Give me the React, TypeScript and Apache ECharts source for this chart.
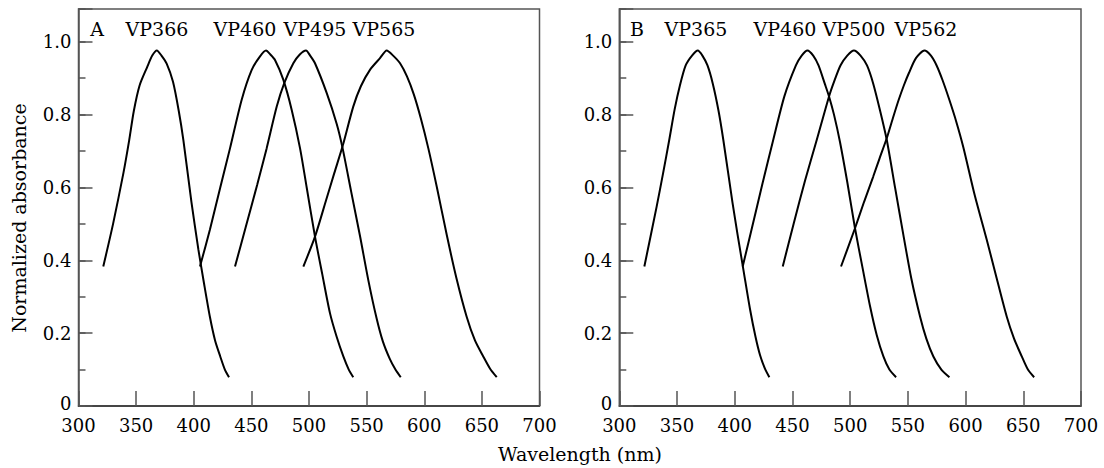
import { useEffect, useRef } from "react";
import * as echarts from "echarts";

// ---------- data ----------
const xMin = 300;
const xMax = 700;
const xStep = 50;
const yMax = 1.09;
const yMajorTicks = [0, 0.2, 0.4, 0.6, 0.8, 1.0];
const yMajorLabels = ["0", "0.2", "0.4", "0.6", "0.8", "1.0"];

const panelALabels = ["A", "VP366", "VP460", "VP495", "VP565"];
const panelBLabels = ["B", "VP365", "VP460", "VP500", "VP562"];

const xTitle = "Wavelength (nm)";
const yTitle = "Normalized absorbance";

// Panel A
const vp366A = [
  [321.5, 0.383], [330, 0.5], [339, 0.64], [344, 0.73], [348, 0.81], [353, 0.88],
  [359.5, 0.93], [364, 0.962], [368, 0.976], [372, 0.962], [376.5, 0.94], [382, 0.89],
  [387, 0.81], [391, 0.73], [398, 0.56], [404, 0.43], [409, 0.335], [414, 0.245],
  [418.5, 0.18], [423, 0.136], [427, 0.1], [430.6, 0.079],
];
const vp460A = [
  [405.4, 0.383], [414, 0.484], [423, 0.6], [431.5, 0.708], [441.6, 0.841], [450.3, 0.923],
  [457.5, 0.96], [462.7, 0.976], [466.5, 0.965], [470.5, 0.95], [477.7, 0.896], [485, 0.813],
  [492.2, 0.708], [498, 0.6], [505.2, 0.465], [511.5, 0.362], [518.2, 0.255], [524, 0.19],
  [529.8, 0.136], [534.5, 0.1], [538.4, 0.079],
];
const vp495A = [
  [435.8, 0.383], [445, 0.49], [455, 0.607], [463.3, 0.708], [472, 0.822], [478.6, 0.887],
  [486.4, 0.941], [492, 0.965], [497.4, 0.976], [501, 0.962], [505.2, 0.941], [515.4, 0.859],
  [524, 0.775], [529, 0.71], [536.5, 0.59], [544.3, 0.466], [551.5, 0.345], [558.7, 0.24],
  [564, 0.178], [570, 0.13], [575, 0.1], [579.6, 0.079],
];
const vp565A = [
  [495.1, 0.383], [505.2, 0.465], [515, 0.567], [522, 0.64], [529.3, 0.715], [538.4, 0.822],
  [545, 0.878], [552.9, 0.923], [561.6, 0.955], [567.4, 0.976], [573, 0.962], [579, 0.941],
  [585, 0.905], [591, 0.855], [597, 0.79], [603.5, 0.708], [611, 0.6], [619.5, 0.47],
  [628, 0.35], [636.8, 0.245], [644, 0.18], [651.2, 0.136], [657, 0.103], [662.9, 0.079],
];

// Panel B
const vp365B = [
  [321.7, 0.383], [332.4, 0.548], [338, 0.64], [343.3, 0.731], [348, 0.815], [352.5, 0.88],
  [357.5, 0.935], [363, 0.962], [368, 0.976], [372, 0.962], [376.4, 0.935], [381, 0.885],
  [386, 0.81], [390.1, 0.731], [398, 0.56], [402.5, 0.47], [408, 0.365], [413.3, 0.265],
  [418, 0.19], [421.9, 0.14], [426, 0.104], [430, 0.079],
];
const vp460B = [
  [406.9, 0.383], [415, 0.49], [424, 0.61], [433.4, 0.731], [443, 0.85], [453, 0.935],
  [458, 0.962], [463, 0.976], [468, 0.962], [472.6, 0.935], [478, 0.885], [481.7, 0.85],
  [486, 0.8], [491.2, 0.725], [497.5, 0.615], [504.2, 0.488], [511, 0.375], [517.3, 0.273],
  [523, 0.195], [528.8, 0.136], [534, 0.1], [539.8, 0.079],
];
const vp500B = [
  [441.6, 0.383], [451, 0.5], [461, 0.62], [471.1, 0.731], [481.7, 0.85], [486, 0.89],
  [491.6, 0.935], [497.5, 0.962], [503.3, 0.976], [509, 0.962], [514.6, 0.935], [520, 0.885],
  [526, 0.81], [531.7, 0.731], [539, 0.598], [546.1, 0.47], [553, 0.35], [560.6, 0.245],
  [566, 0.185], [572.1, 0.136], [579, 0.1], [586, 0.079],
];
const vp562B = [
  [492.1, 0.383], [504.2, 0.488], [512, 0.56], [520, 0.63], [525.5, 0.68], [531.7, 0.735],
  [537, 0.79], [542, 0.84], [546.5, 0.88], [551, 0.915], [557, 0.955], [564.3, 0.976],
  [570, 0.962], [574.9, 0.935], [580, 0.895], [586, 0.84], [592, 0.78], [598.1, 0.71],
  [608, 0.578], [618.4, 0.456], [627, 0.35], [635.7, 0.245], [642, 0.185], [648.7, 0.136],
  [654, 0.1], [659.4, 0.079],
];

const panelASeries = [vp366A, vp460A, vp495A, vp565A];
const panelBSeries = [vp365B, vp460B, vp500B, vp562B];

// ---------- layout / style ----------
const W = 1104;
const H = 468;
const FONT = '"DejaVu Serif", serif';
const frameColor = "#555";
const grids = [
  { left: 78.5, right: 564.5, top: 9, bottom: 62 },
  { left: 619.3, right: 23, top: 9, bottom: 62 },
];
const panelLabelX = [
  [97, 157, 245, 315, 384],
  [637, 696, 785, 854, 926],
];
const panelLabelY = 29;

export default function App() {
  const ref = useRef<HTMLDivElement>(null);

  useEffect(() => {
    if (!ref.current) return;
    const chart = echarts.init(ref.current, null, { renderer: "svg" });

    const majorLabel = (v: number) => {
      const i = yMajorTicks.findIndex((t) => Math.abs(t - v) < 1e-6);
      if (i < 0) return "";
      return i === 0 ? `{z|${yMajorLabels[i]}}` : yMajorLabels[i];
    };

    const xAxes = grids.map((_, g) => ({
      type: "value",
      gridIndex: g,
      min: xMin,
      max: xMax,
      interval: xStep,
      axisLine: { show: true, lineStyle: { color: "#333", width: 1.5 } },
      axisTick: { show: true, inside: true, length: 15, lineStyle: { color: frameColor, width: 1.5 } },
      axisLabel: { margin: 12, fontSize: 18, lineHeight: 14, fontFamily: FONT, color: "#000" },
      splitLine: { show: false },
    }));

    const yAxes: any[] = [];
    grids.forEach((_, g) => {
      yAxes.push({
        type: "value",
        gridIndex: g,
        position: "left",
        min: 0,
        max: yMax,
        interval: 0.2,
        axisLine: { show: true, lineStyle: { color: frameColor, width: 1.5 } },
        axisTick: { show: true, inside: true, length: 14, lineStyle: { color: frameColor, width: 1.5 } },
        axisLabel: {
          margin: 7,
          fontSize: 18,
          lineHeight: 14,
          fontFamily: FONT,
          color: "#000",
          formatter: majorLabel,
          rich: {
            z: {
              fontSize: 18,
              lineHeight: 14,
              fontFamily: FONT,
              color: "#000",
              padding: [0, 0, 5, 0],
            },
          },
        },
        splitLine: { show: false },
      });
      yAxes.push({
        type: "value",
        gridIndex: g,
        position: "left",
        min: 0,
        max: yMax,
        interval: 0.1,
        axisLine: { show: false },
        axisTick: { show: true, inside: true, length: 7, lineStyle: { color: frameColor, width: 1.5 } },
        axisLabel: { show: false },
        splitLine: { show: false },
      });
    });

    const mkSeries = (data: number[][], g: number) => ({
      type: "line",
      xAxisIndex: g,
      yAxisIndex: g * 2,
      data,
      showSymbol: false,
      symbol: "none",
      smooth: 0.25,
      lineStyle: { color: "#000", width: 2 },
      silent: true,
    });

    const series = [
      ...panelASeries.map((d) => mkSeries(d, 0)),
      ...panelBSeries.map((d) => mkSeries(d, 1)),
    ];

    const labelEls: any[] = [];
    [panelALabels, panelBLabels].forEach((labels, p) => {
      labels.forEach((t, i) => {
        labelEls.push({
          type: "text",
          x: panelLabelX[p][i],
          y: panelLabelY,
          style: {
            text: t,
            font: `19px ${FONT}`,
            fill: "#000",
            textAlign: "center",
            textVerticalAlign: "middle",
          },
        });
      });
    });

    chart.setOption({
      animation: false,
      backgroundColor: "#fff",
      grid: grids.map((g) => ({
        ...g,
        show: true,
        borderColor: frameColor,
        borderWidth: 1.5,
        backgroundColor: "transparent",
      })),
      xAxis: xAxes,
      yAxis: yAxes,
      series,
      graphic: [
        ...labelEls,
        {
          type: "text",
          x: 19,
          y: 218,
          rotation: Math.PI / 2,
          style: {
            text: yTitle,
            font: `19px ${FONT}`,
            fill: "#000",
            textAlign: "center",
            textVerticalAlign: "middle",
          },
        },
        {
          type: "text",
          x: 580,
          y: 454,
          style: {
            text: xTitle,
            font: `19px ${FONT}`,
            fill: "#000",
            textAlign: "center",
            textVerticalAlign: "middle",
          },
        },
      ],
    });

    return () => chart.dispose();
  }, []);

  return (
    <div
      ref={ref}
      style={{ position: "absolute", left: 0, top: 0, width: W, height: H, background: "#fff" }}
    />
  );
}
